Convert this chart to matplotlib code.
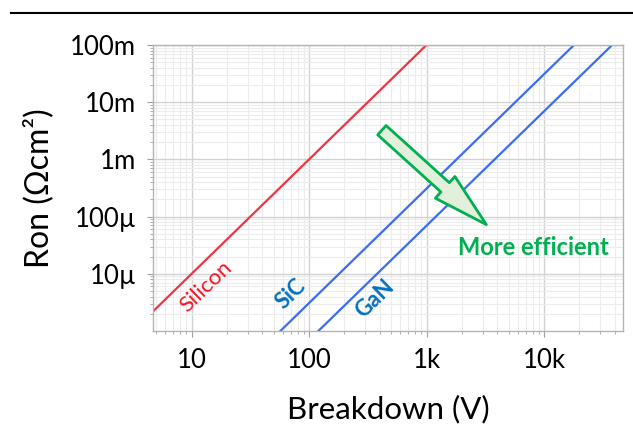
import matplotlib
matplotlib.use('Agg')
import matplotlib.pyplot as plt
from matplotlib.lines import Line2D
from matplotlib.ticker import LogLocator, FixedLocator, FixedFormatter, NullFormatter

plt.rcParams['font.family'] = ['Lato', 'DejaVu Sans']

# breakdown voltage (V) and on-resistance (Ohm cm^2) end points of each limit line
si_v = [4.7, 1000]
si_ron = [2.2e-6, 1e-1]
sic_v = [57, 18000]
sic_ron = [1e-6, 1e-1]
gan_v = [120, 38000]
gan_ron = [1e-6, 1e-1]

x_ticks = [10, 100, 1000, 10000]
x_labels = ['10', '100', '1k', '10k']
y_ticks = [1e-5, 1e-4, 1e-3, 1e-2, 1e-1]
y_labels = ['10µ', '100µ', '1m', '10m', '100m']

# label anchors (data coords)
si_lbl = (13.4, 6.1e-6)
sic_lbl = (70, 4.4e-6)
gan_lbl = (364, 3.66e-6)
eff_lbl = (8180, 2.85e-5)
arrow_from = (417, 3.24e-3)
arrow_to = (3228, 7.25e-5)

fig = plt.figure(figsize=(6.33, 4.28), dpi=100)
ax = fig.add_axes([0.2417, 0.2266, 0.7425, 0.6683])

ax.set_xscale('log')
ax.set_yscale('log')
ax.set_xlim(4.7, 47000)
ax.set_ylim(1e-6, 1e-1)

ax.plot(si_v, si_ron, color='#ee3445', lw=1.6)
ax.plot(sic_v, sic_ron, color='#3a6cf4', lw=1.6)
ax.plot(gan_v, gan_ron, color='#3a6cf4', lw=1.6)

ax.xaxis.set_major_locator(FixedLocator(x_ticks))
ax.xaxis.set_major_formatter(FixedFormatter(x_labels))
ax.yaxis.set_major_locator(FixedLocator(y_ticks))
ax.yaxis.set_major_formatter(FixedFormatter(y_labels))
ax.xaxis.set_minor_locator(LogLocator(base=10, subs=range(2, 10), numticks=20))
ax.yaxis.set_minor_locator(LogLocator(base=10, subs=range(2, 10), numticks=20))
ax.xaxis.set_minor_formatter(NullFormatter())
ax.yaxis.set_minor_formatter(NullFormatter())

ax.grid(which='major', color='#d2d2d2', lw=1.0)
ax.grid(which='minor', color='#ececec', lw=0.8)
ax.set_axisbelow(True)
for s in ax.spines.values():
    s.set_color('#b4b4b4')
    s.set_linewidth(1.0)
ax.tick_params(which='major', length=4, color='#a0a0a0', labelsize=18.5, pad=8)
ax.tick_params(which='minor', length=2.5, color='#a0a0a0')

ax.set_xlabel('Breakdown (V)', fontsize=22.5, labelpad=16)
ax.set_ylabel('Ron (Ωcm²)', fontsize=23, labelpad=12)

ax.text(*si_lbl, 'Silicon', color='#ff1020', fontsize=16, rotation=44,
        ha='center', va='center', rotation_mode='anchor')
ax.text(*sic_lbl, 'SiC', color='#0070c0', fontsize=16, fontweight='bold',
        rotation=44, ha='center', va='center', rotation_mode='anchor')
ax.text(*gan_lbl, 'GaN', color='#0070c0', fontsize=16, fontweight='bold',
        rotation=44, ha='center', va='center', rotation_mode='anchor')
ax.text(*eff_lbl, 'More efficient', color='#00b050', fontsize=17,
        fontweight='bold', ha='center', va='center')

ax.annotate('', xy=arrow_to, xytext=arrow_from,
            arrowprops=dict(arrowstyle='simple,head_length=40,head_width=21,tail_width=9',
                            mutation_scale=1, fc='#e2efda', ec='#00b050', lw=2.0,
                            shrinkA=0, shrinkB=0))

fig.add_artist(Line2D([11 / 633, 1.0], [0.9696, 0.9696], color='black', lw=1.5))

fig.savefig('out.png', dpi=100)
